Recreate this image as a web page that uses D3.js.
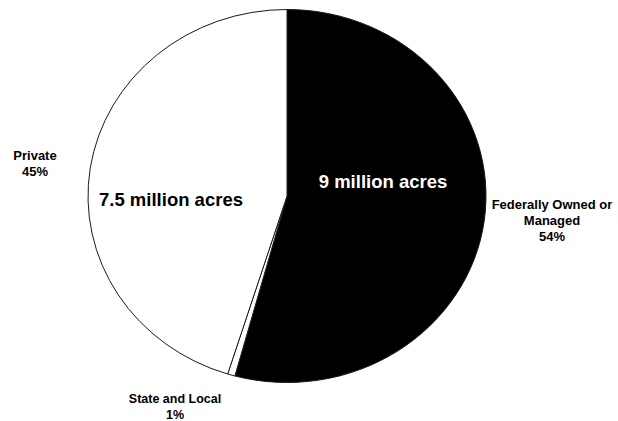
<!DOCTYPE html>
<html>
<head>
<meta charset="utf-8">
<script src="https://cdn.jsdelivr.net/npm/d3@7"></script>
<style>
  html, body { margin: 0; padding: 0; background: #fff; }
  svg { display: block; }
  text { font-family: "Liberation Sans", Arial, Helvetica, sans-serif; font-weight: bold; }
</style>
</head>
<body>
<svg id="chart" width="618" height="421"></svg>
<script>
// Land ownership, millions of acres
const categories = ["Federally Owned or Managed", "State and Local", "Private"];
const acres = [9, 0.1, 7.5];
const acreLabels = ["9 million acres", null, "7.5 million acres"];

const W = 618, H = 421;
const cx = 287, cy = 196, rx = 199, ry = 186.5;

const svg = d3.select("#chart");

const rows = categories.map((name, i) => ({ name, value: acres[i], inner: acreLabels[i] }));
const total = d3.sum(acres);

const pie = d3.pie().sort(null).value(d => d.value).startAngle(0).endAngle(2 * Math.PI);
const arc = d3.arc().innerRadius(0).outerRadius(rx);

const fills = { "Federally Owned or Managed": "#000", "State and Local": "#fff", "Private": "#fff" };

// slightly flattened pie
const g = svg.append("g")
  .attr("transform", `translate(${cx},${cy}) scale(1,${ry / rx})`);

g.selectAll("path")
  .data(pie(rows))
  .join("path")
  .attr("d", arc)
  .attr("fill", d => fills[d.data.name])
  .attr("stroke", "#1a1a1a")
  .attr("stroke-width", 1)
  .attr("vector-effect", "non-scaling-stroke")
  .attr("stroke-linejoin", "round");

// in-slice acreage labels
const innerPos = {
  "Federally Owned or Managed": { x: 383, y: 188, color: "#fff" },
  "Private": { x: 171, y: 206, color: "#000" }
};
rows.filter(r => r.inner).forEach(r => {
  const p = innerPos[r.name];
  svg.append("text")
    .attr("x", p.x).attr("y", p.y)
    .attr("text-anchor", "middle")
    .attr("font-size", 18.5)
    .attr("fill", p.color)
    .text(r.inner);
});

// outer category labels with percentages
const pct = v => Math.round(v / total * 100) + "%";
const outerPos = {
  "Federally Owned or Managed": { x: 552, y: 209, lines: ["Federally Owned or", "Managed"], size: 13 },
  "State and Local": { x: 175, y: 403, lines: ["State and Local"], size: 12.5 },
  "Private": { x: 35, y: 160, lines: ["Private"], size: 13 }
};
rows.forEach(r => {
  const p = outerPos[r.name];
  const t = svg.append("text")
    .attr("text-anchor", "middle")
    .attr("font-size", p.size)
    .attr("fill", "#000");
  p.lines.concat([pct(r.value)]).forEach((line, i) => {
    t.append("tspan")
      .attr("x", p.x)
      .attr("y", p.y + i * 16)
      .text(line);
  });
});
</script>
</body>
</html>
